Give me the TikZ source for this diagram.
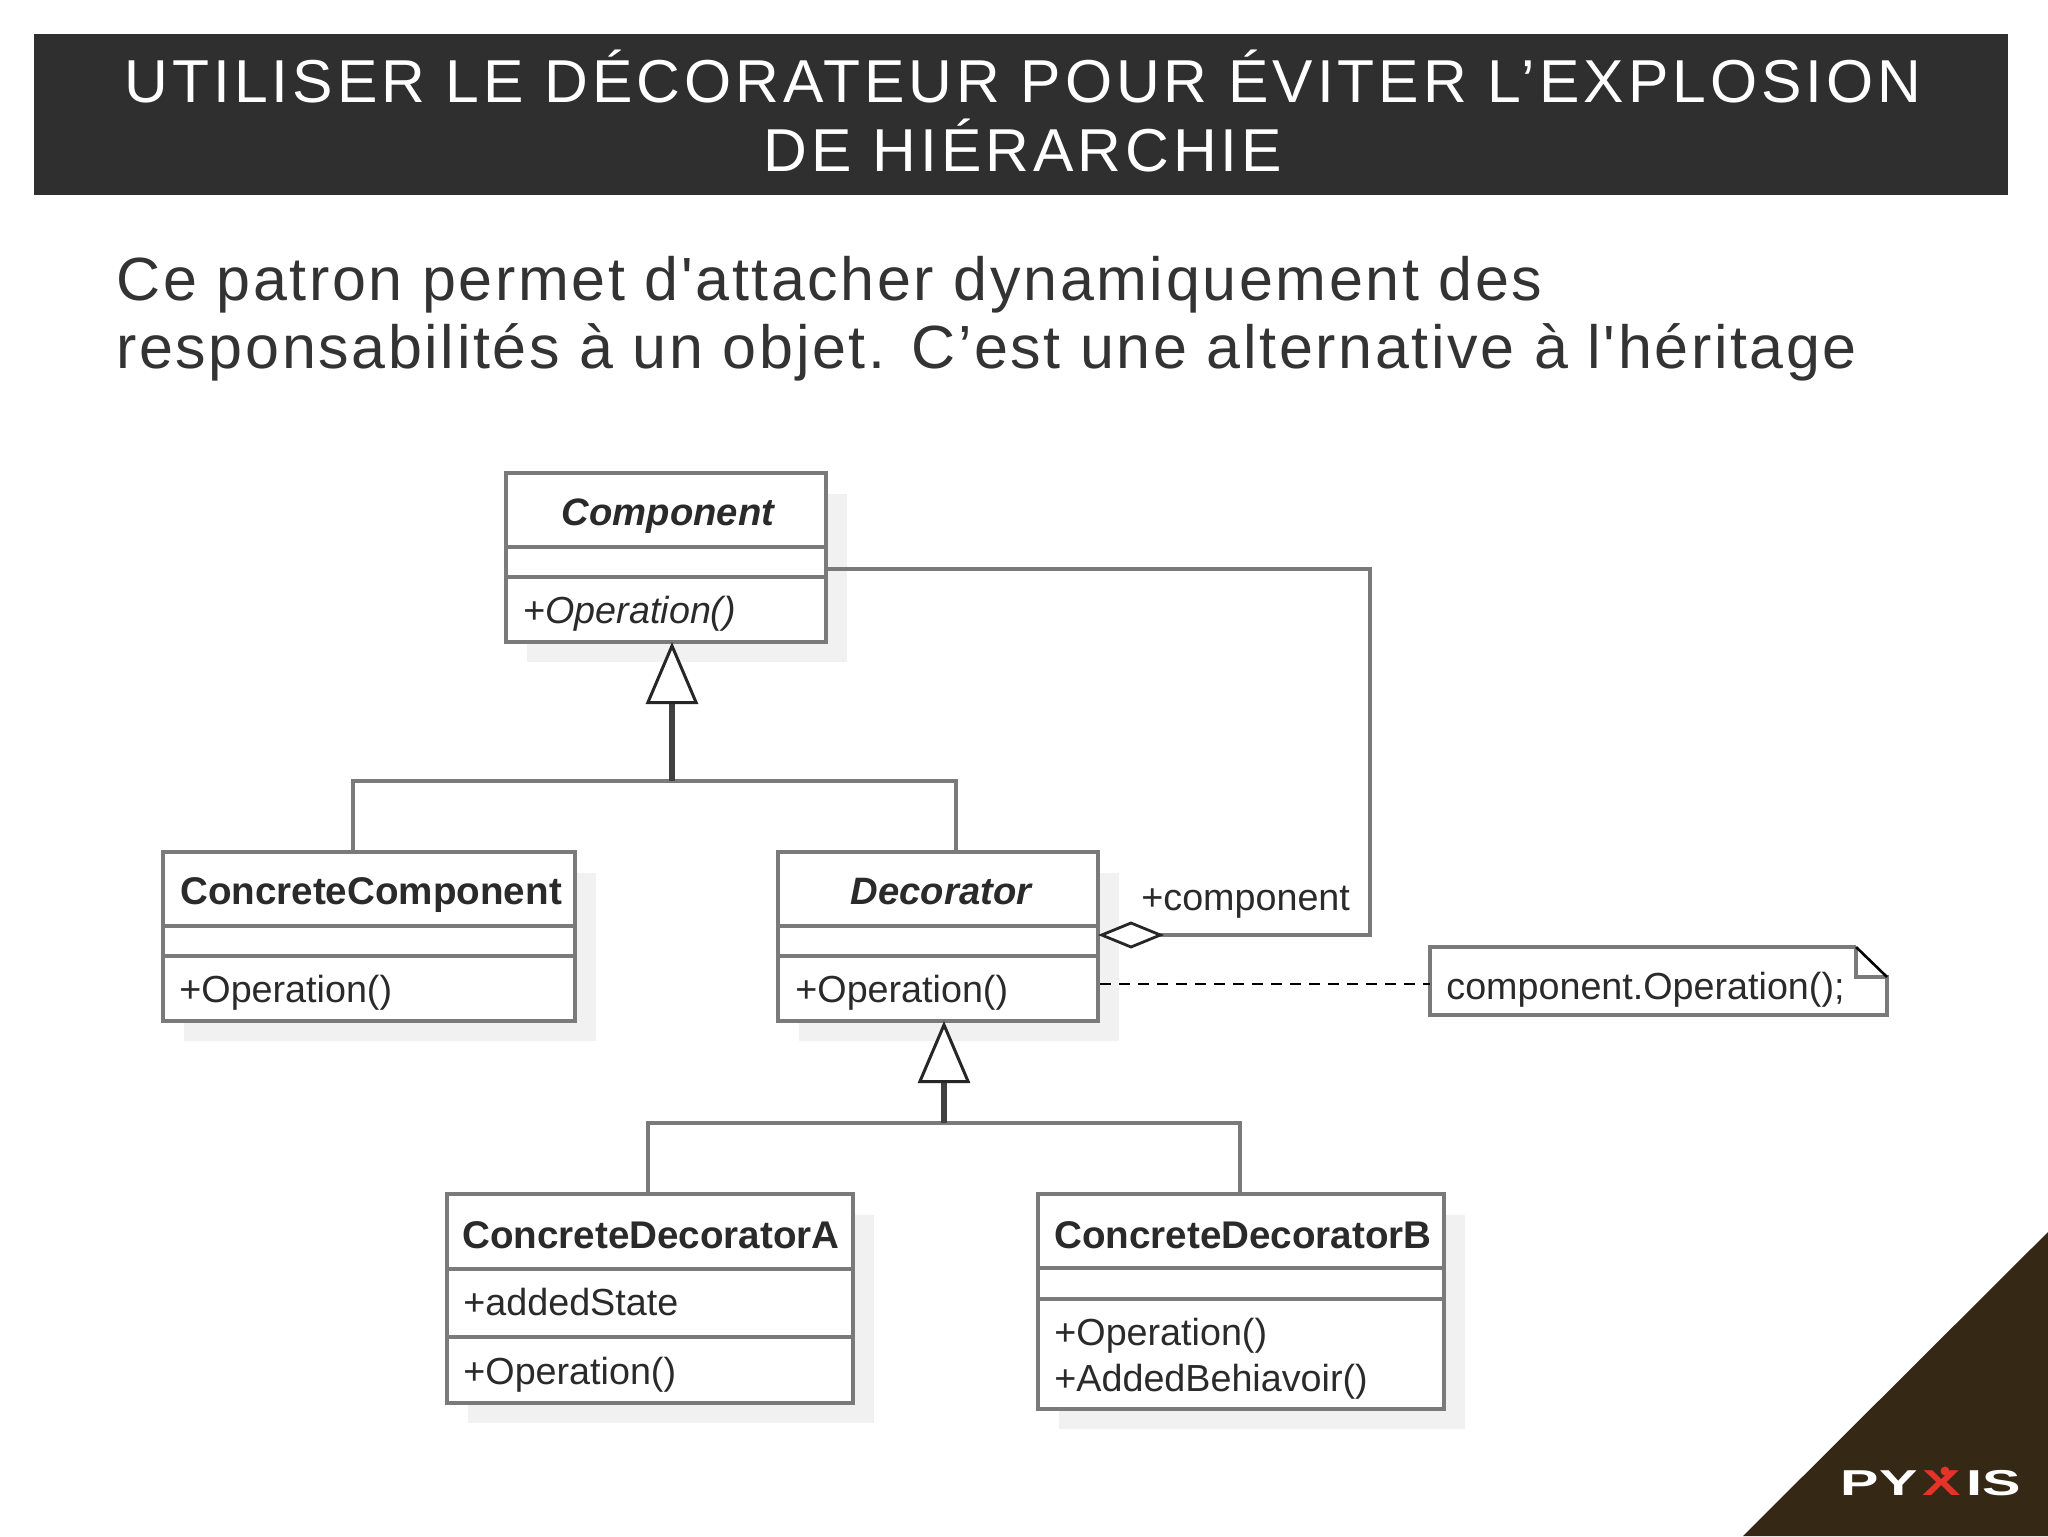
\documentclass[tikz,border=0pt]{standalone}
\usepackage{fontspec}
\usetikzlibrary{arrows.meta}
\setmainfont{Liberation Sans}
\newfontfamily\titlefont[LetterSpace=6.5]{Liberation Sans}
\newfontfamily\bodyfont[LetterSpace=4.3]{Liberation Sans}
\definecolor{bar}{HTML}{2F2F2F}
\definecolor{corner}{HTML}{352815}
\definecolor{umlgray}{HTML}{7A7A7A}
\definecolor{umlshadow}{HTML}{F1F1F1}
\definecolor{umltext}{HTML}{2A2A2A}
\definecolor{logored}{HTML}{E5332A}
\tikzset{
  classnode/.style={draw=umlgray,line width=2.3pt,fill=white,inner sep=0pt,outer sep=0pt},
  divider/.style={draw=umlgray,line width=2.3pt},
  conn/.style={draw=umlgray,line width=2.3pt},
  stem/.style={draw=black!75,line width=2.7pt},
  lbl/.style={inner sep=0pt,anchor=base west,text=umltext,font=\fontsize{18.85}{22}\selectfont},
  ttl/.style={inner sep=0pt,anchor=base,text=umltext},
  ttlb/.style={ttl,font=\bfseries\fontsize{19.3}{22}\selectfont},
  ttli/.style={ttl,font=\bfseries\itshape\fontsize{19.1}{22}\selectfont},
  logotxt/.style={inner sep=0pt,anchor=base west,xscale=1.6,font=\bfseries\fontsize{18}{18}\selectfont},
}
\newcommand{\umlclass}[7]{%
  \fill[umlshadow] ({#2+21},{#3+21}) rectangle ({#4+21},{#5+20});
  \node[classnode,minimum width={(#4-#2)*0.5pt},minimum height={(#5-#3)*0.5pt}] (#1) at ({(#2+#4)/2},{(#3+#5)/2}) {};
  \draw[divider] (#1.west |- 0,#6) -- (#1.east |- 0,#6);
  \draw[divider] (#1.west |- 0,#7) -- (#1.east |- 0,#7);
}
\begin{document}
\begin{tikzpicture}[x=0.5pt,y=-0.5pt]
\useasboundingbox (0,0) rectangle (2048,1536);
\fill[white] (0,0) rectangle (2048,1536);
% title
\fill[bar] (34,34) rectangle (2008,195);
\node[inner sep=0pt,align=center,text=white,font=\titlefont\fontsize{30.3}{34.5}\selectfont] (title) at (1023,111)
  {UTILISER LE DÉCORATEUR POUR ÉVITER L’EXPLOSION\\DE HIÉRARCHIE};
% body
\node[inner sep=0pt,align=left,anchor=west,text=black!80,font=\bodyfont\fontsize{30.5}{34}\selectfont] (body) at (116,319)
  {Ce patron permet d'attacher dynamiquement des\\responsabilités à un objet. C’est une alternative à l'héritage};
% corner
\fill[corner] (2048,1232) -- (2048,1536) -- (1743,1536) -- cycle;
\node[logotxt,text=white] (logoa) at (1840,1495) {PY};
\node[logotxt,text=logored] (logob) at (1922,1495) {X};
\node[logotxt,text=white] (logoc) at (1966,1495) {IS};
\fill[logored] (1945,1471) circle (4.5);
% classes
\umlclass{comp}{506}{473}{826}{642}{547}{577}
\umlclass{ccomp}{163}{852}{575}{1021}{926}{956}
\umlclass{deco}{778}{852}{1098}{1021}{926}{956}
\umlclass{cda}{447}{1194}{853}{1403}{1269}{1337}
\umlclass{cdb}{1038}{1194}{1444}{1409}{1268}{1299}
% class texts
\node[ttli] (t1) at (668,525) {Component};
\node[lbl] (o1) at (523,623) {+\textit{Operation()}};
\node[ttlb] (t2) at (371,904) {ConcreteComponent};
\node[lbl] (o2) at (179,1002) {+Operation()};
\node[ttli] (t3) at (941,904) {Decorator};
\node[lbl] (o3) at (795,1002) {+Operation()};
\node[ttlb] (t4) at (651,1248) {ConcreteDecoratorA};
\node[lbl] (a4) at (463,1315) {+addedState};
\node[lbl] (o4) at (463,1384) {+Operation()};
\node[ttlb] (t5) at (1243,1248) {ConcreteDecoratorB};
\node[lbl] (o5) at (1054,1345) {+Operation()};
\node[lbl] (b5) at (1054,1391) {+AddedBehiavoir()};
% generalisation 1
\coordinate (j1) at (672,781);
\draw[conn] (ccomp.north -| 353,0) -- (353,781) -- (956,781) -- (deco.north -| 956,0);
\draw[stem,-{Triangle[open,fill=white,length=31pt,width=26pt,line width=1.5pt,color=black!85]}] (j1) -- (j1 |- comp.south);
% generalisation 2
\coordinate (j2) at (944,1123);
\draw[conn] (cda.north -| 648,0) -- (648,1123) -- (1240,1123) -- (cdb.north -| 1240,0);
\draw[stem,-{Triangle[open,fill=white,length=31pt,width=26pt,line width=1.5pt,color=black!85]}] (j2) -- (j2 |- deco.south);
% aggregation
\coordinate (ag) at (1098,935);
\coordinate (cp) at (826,569);
\draw[conn,{Diamond[open,fill=white,length=33pt,width=13.5pt,line width=1.4pt,color=black!85]}-] (ag) -- (1370,935) -- (1370,569) -- (cp);
\node[lbl] (role) at (1141,910) {+component};
% note
\fill[white,draw=none] (1430,947) -- (1856,947) -- (1887,977) -- (1887,1015) -- (1430,1015) -- cycle;
\coordinate (nw) at (1430,947);
\coordinate (nf) at (1856,947);
\coordinate (ne) at (1887,977);
\coordinate (se) at (1887,1015);
\coordinate (sw) at (1430,1015);
\coordinate (nd) at (1430,984);
\draw[conn,line join=miter] (nf) -- (nw) -- (sw) -- (se) -- (ne) -- (nf |- ne) -- (nf);
\draw[black,line width=1.3pt] (nf) -- (ne);
\node[lbl] (note) at (1446,999) {component.Operation();};
\coordinate (ds) at (1100,984);
\draw[black,line width=1.4pt,dash pattern=on 5.5pt off 4pt] (ds) -- (nd);
\end{tikzpicture}
\end{document}
